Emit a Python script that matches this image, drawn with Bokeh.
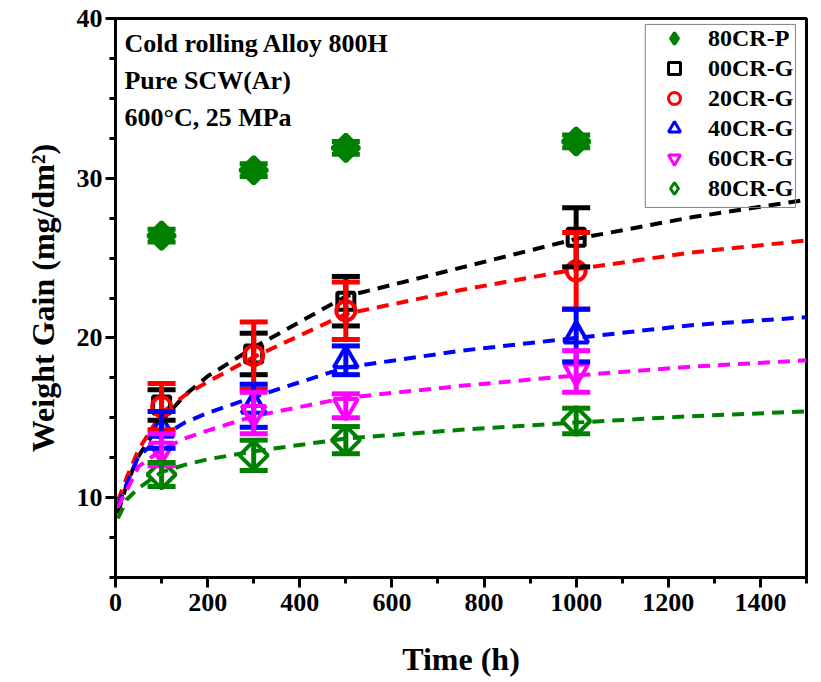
import math
from bokeh.plotting import figure
from bokeh.models import (Range1d, SingleIntervalTicker, Whisker, TeeHead, ColumnDataSource,
                          Legend, LegendItem, Label, BoxAnnotation)
from bokeh.embed import file_html
from bokeh.resources import INLINE

# ---------------- data ----------------
time_h = [100, 300, 500, 1000]

cr80p_y = [26.4, 30.5, 31.9, 32.3]
cr80p_err = [0.4, 0.4, 0.4, 0.4]

cr00g_y = [15.8, 19.0, 22.3, 26.3]
cr00g_err = [0.95, 1.3, 1.55, 1.85]

cr20g_y = [15.7, 18.9, 21.7, 24.2]
cr20g_err = [1.45, 2.1, 1.8, 2.4]

cr40g_y = [14.25, 15.75, 18.6, 20.15]
cr40g_err = [1.15, 1.35, 0.9, 1.65]

cr60g_y = [13.0, 15.3, 15.75, 17.9]
cr60g_err = [1.0, 1.3, 0.75, 1.3]

cr80g_y = [11.45, 12.65, 13.6, 14.8]
cr80g_err = [0.75, 0.95, 0.85, 0.8]

# fitted (dashed) curves, read at these times
fit_t = [5, 25, 50, 100, 150, 200, 300, 500, 750, 1000, 1250, 1500]
fit_00 = [9.0, 10.9, 12.6, 14.8, 16.4, 17.6, 19.4, 22.6, 24.4, 26.2, 27.55, 28.65]
fit_20 = [9.8, 11.3, 13.0, 15.3, 16.4, 17.25, 18.8, 21.5, 23.0, 24.3, 25.35, 26.1]
fit_40 = [9.5, 10.9, 12.6, 13.8, 14.7, 15.3, 16.3, 18.15, 19.2, 20.0, 20.8, 21.3]
fit_60 = [9.4, 10.5, 11.95, 13.0, 13.7, 14.2, 15.1, 16.25, 17.0, 17.65, 18.2, 18.6]
fit_80 = [8.7, 9.9, 10.6, 11.6, 12.05, 12.4, 12.9, 13.7, 14.25, 14.7, 15.1, 15.4]

labels = ["80CR-P", "00CR-G", "20CR-G", "40CR-G", "60CR-G", "80CR-G"]
colors = ["#008000", "#000000", "#ff0000", "#0000ff", "#ff00ff", "#008000"]

FONT = "Liberation Serif"

p = figure(width=814, height=679, x_range=Range1d(0, 1500), y_range=Range1d(5, 40),
           output_backend="svg", toolbar_location=None,
           min_border_left=115, min_border_right=8, min_border_top=18, min_border_bottom=95)
p.xgrid.visible = False
p.ygrid.visible = False
p.outline_line_color = "black"
p.outline_line_width = 3
p.outline_line_alpha = 1.0

p.xaxis.ticker = SingleIntervalTicker(interval=200, num_minor_ticks=2)
p.yaxis.ticker = SingleIntervalTicker(interval=10, num_minor_ticks=4)
for ax in (p.xaxis[0], p.yaxis[0]):
    ax.axis_line_width = 3
    ax.major_tick_line_width = 3
    ax.minor_tick_line_width = 3
    ax.major_tick_in = 0
    ax.major_tick_out = 10
    ax.minor_tick_in = 0
    ax.minor_tick_out = 6
    ax.major_label_text_font = FONT
    ax.major_label_text_font_style = "bold"
    ax.major_label_text_font_size = "26px"
    ax.major_label_text_color = "black"
    ax.axis_label_text_font = FONT
    ax.axis_label_text_font_style = "bold"
    ax.axis_label_text_font_size = "32px"
    ax.axis_label_text_color = "black"
p.xaxis.axis_label = "Time (h)"
p.yaxis.axis_label = "Weight Gain (mg/dm\u00b2)"
p.xaxis.major_label_standoff = 6
p.xaxis.axis_label_standoff = 27
p.yaxis.major_label_standoff = 3
p.yaxis.axis_label_standoff = 13

dash = dict(line_dash="12 8", line_width=4)
for fy, c in zip([fit_00, fit_20, fit_40, fit_60, fit_80], colors[1:]):
    p.line(fit_t, fy, line_color=c, **dash)

series = [
    (cr80p_y, cr80p_err, "square", math.pi / 4, 19, True),
    (cr00g_y, cr00g_err, "square", 0, 17, False),
    (cr20g_y, cr20g_err, "circle", 0, 19, False),
    (cr40g_y, cr40g_err, "triangle", 0, 24, False),
    (cr60g_y, cr60g_err, "inverted_triangle", 0, 24, False),
    (cr80g_y, cr80g_err, "square", math.pi / 4, 20, False),
]
legend_markers = ["diamond", "square", "circle", "triangle", "inverted_triangle", "diamond"]

items = []
for (ys, errs, mk, ang, sz, filled), c, lab, lmk in zip(series, colors, labels, legend_markers):
    src = ColumnDataSource(dict(x=time_h, y=ys,
                                upper=[a + b for a, b in zip(ys, errs)],
                                lower=[a - b for a, b in zip(ys, errs)]))
    w = Whisker(source=src, base="x", upper="upper", lower="lower", dimension="height",
                line_color=c, line_width=5, level="glyph",
                upper_head=TeeHead(size=28, line_color=c, line_width=5),
                lower_head=TeeHead(size=28, line_color=c, line_width=5))
    p.add_layout(w)
    style = dict(line_color=c,
                 fill_color=c if filled else None, fill_alpha=1.0 if filled else 0.0)
    p.scatter("x", "y", source=src, marker=mk, angle=ang, size=sz, line_width=4, **style)
    # hidden renderer used only as the legend key (diamond shape for the legend)
    key = p.scatter("x", "y", source=src, marker=lmk, size=sz, line_width=3,
                    visible=False, **style)
    items.append(LegendItem(label=lab, renderers=[key]))

legend = Legend(items=items, location=(532, 372), glyph_width=50, glyph_height=30,
                label_height=30, spacing=0, padding=2, label_standoff=9,
                label_text_font=FONT, label_text_font_style="bold",
                label_text_font_size="24px", label_text_color="black",
                inactive_fill_alpha=0,
                border_line_alpha=0, background_fill_alpha=0)
p.add_layout(legend)

p.add_layout(BoxAnnotation(left=1150, right=1476, top=39.63, bottom=28.17,
                           fill_alpha=0, line_color="#808080", line_width=1, line_alpha=1))

for txt, yy in [("Cold rolling Alloy 800H", 39.32), ("Pure SCW(Ar)", 37.01),
                ("600\u00b0C, 25 MPa", 34.71)]:
    p.add_layout(Label(x=19.5, y=yy, text=txt, text_baseline="top", text_align="left",
                       text_font=FONT, text_font_style="bold", text_font_size="26px",
                       text_color="black"))

open("out.html", "w").write(file_html(p, INLINE))
